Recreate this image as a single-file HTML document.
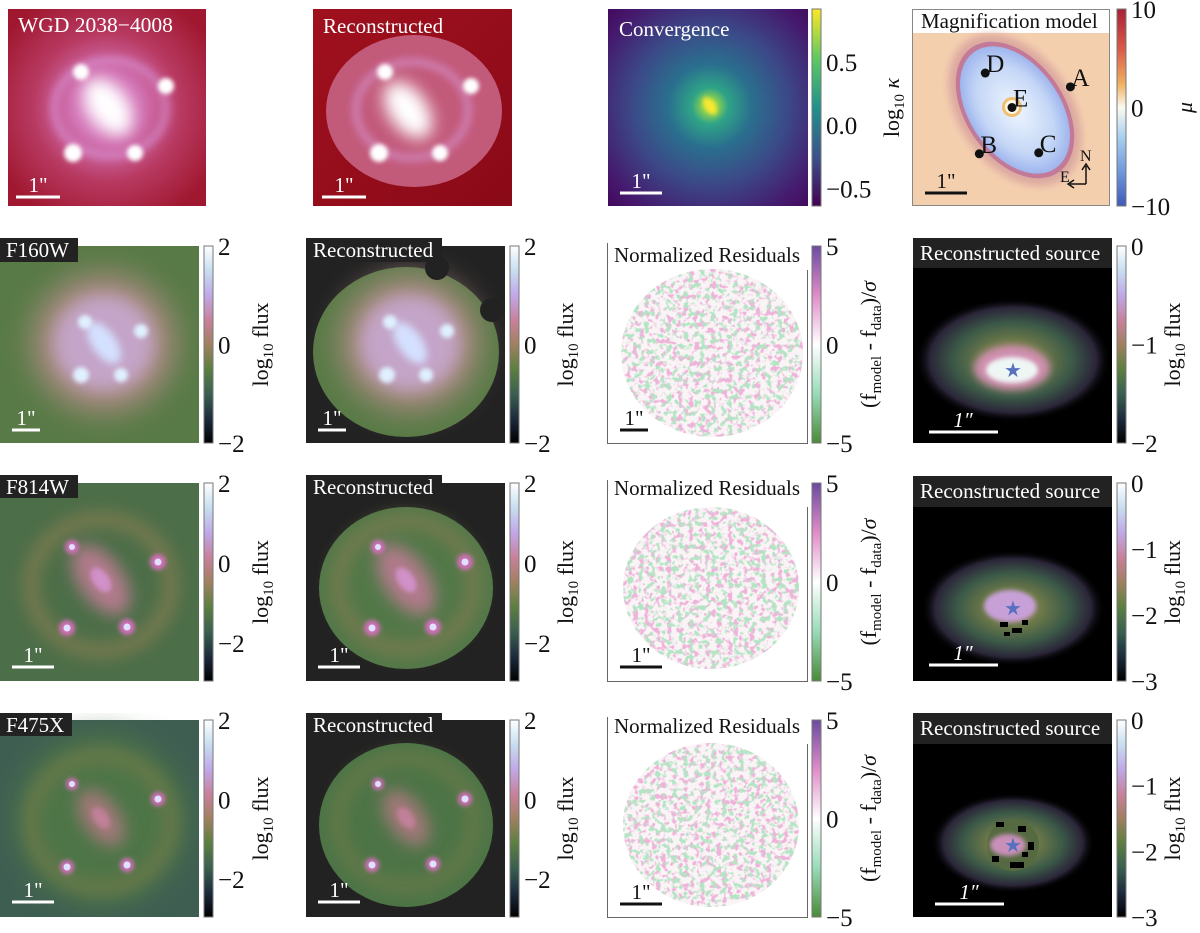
<!DOCTYPE html>
<html><head><meta charset="utf-8"><style>
html,body{margin:0;padding:0;background:#fff;}
svg{display:block;font-family:"Liberation Serif",serif;}
</style></head><body>
<svg id="fig" width="1200" height="933" viewBox="0 0 1200 933" xmlns="http://www.w3.org/2000/svg">
<defs>
<filter id="b2" x="-50%" y="-50%" width="200%" height="200%"><feGaussianBlur stdDeviation="2"/></filter>
<filter id="b4" x="-50%" y="-50%" width="200%" height="200%"><feGaussianBlur stdDeviation="4"/></filter>
<filter id="b8" x="-50%" y="-50%" width="200%" height="200%"><feGaussianBlur stdDeviation="8"/></filter>
<filter id="b15" x="-50%" y="-50%" width="200%" height="200%"><feGaussianBlur stdDeviation="15"/></filter>
<filter id="noise" x="0" y="0" width="100%" height="100%">
 <feTurbulence type="fractalNoise" baseFrequency="0.18" numOctaves="2" seed="4"/>
 <feColorMatrix type="matrix" values="0 0 0 0 0.86  0 0 0 0 0.45  0 0 0 0 0.70  7 0 0 0 -3.6"/>
</filter>
<filter id="noise2" x="0" y="0" width="100%" height="100%">
 <feTurbulence type="fractalNoise" baseFrequency="0.18" numOctaves="2" seed="11"/>
 <feColorMatrix type="matrix" values="0 0 0 0 0.45  0 0 0 0 0.78  0 0 0 0 0.55  0 7 0 0 -3.7"/>
</filter>
<radialGradient id="redbg" cx="50%" cy="50%" r="62%"><stop offset="0" stop-color="#e8a8e0"/><stop offset="0.3" stop-color="#d070b0"/><stop offset="0.6" stop-color="#b83a62"/><stop offset="1" stop-color="#a01830"/></radialGradient>
<linearGradient id="redbg2" x1="0" y1="0" x2="1" y2="1"><stop offset="0" stop-color="#a0101e"/><stop offset="1" stop-color="#8a0a18"/></linearGradient>
<radialGradient id="viri" cx="710" cy="106" r="140" gradientUnits="userSpaceOnUse"><stop offset="0" stop-color="#eee32a"/><stop offset="0.05" stop-color="#8fd24e"/><stop offset="0.13" stop-color="#2fa487"/><stop offset="0.3" stop-color="#2a6f8e"/><stop offset="0.55" stop-color="#3b4a88"/><stop offset="0.85" stop-color="#451a6e"/><stop offset="1" stop-color="#440a5e"/></radialGradient>
<radialGradient id="srcglow" cx="50%" cy="50%" r="50%"><stop offset="0" stop-color="#c88aa0"/><stop offset="0.3" stop-color="#6f7a48"/><stop offset="0.6" stop-color="#3c5a48"/><stop offset="0.85" stop-color="#2a2538"/><stop offset="1" stop-color="#000" stop-opacity="0"/></radialGradient>
<radialGradient id="magin" cx="50%" cy="50%" r="50%"><stop offset="0" stop-color="#eef6ff"/><stop offset="0.7" stop-color="#c4d6f6"/><stop offset="1" stop-color="#9fb6ee"/></radialGradient>
<linearGradient id="cm-flux" x1="0" y1="0" x2="0" y2="1"><stop offset="0" stop-color="#ffffff"/><stop offset="0.12" stop-color="#c8e0f0"/><stop offset="0.25" stop-color="#c0a8e8"/><stop offset="0.38" stop-color="#c8809a"/><stop offset="0.5" stop-color="#a08060"/><stop offset="0.62" stop-color="#5e8040"/><stop offset="0.75" stop-color="#3a6050"/><stop offset="0.88" stop-color="#1c2a3c"/><stop offset="1" stop-color="#000000"/></linearGradient>
<linearGradient id="cm-viri" x1="0" y1="0" x2="0" y2="1"><stop offset="0" stop-color="#fde725"/><stop offset="0.25" stop-color="#5ec962"/><stop offset="0.5" stop-color="#21918c"/><stop offset="0.75" stop-color="#3b528b"/><stop offset="1" stop-color="#440154"/></linearGradient>
<linearGradient id="cm-mu" x1="0" y1="0" x2="0" y2="1"><stop offset="0" stop-color="#a82038"/><stop offset="0.2" stop-color="#d85a48"/><stop offset="0.38" stop-color="#f0b060"/><stop offset="0.5" stop-color="#fafaf0"/><stop offset="0.65" stop-color="#a8d0f0"/><stop offset="0.85" stop-color="#6890d8"/><stop offset="1" stop-color="#4058b8"/></linearGradient>
<linearGradient id="cm-res" x1="0" y1="0" x2="0" y2="1"><stop offset="0" stop-color="#6a4aa0"/><stop offset="0.25" stop-color="#e08cc8"/><stop offset="0.5" stop-color="#ffffff"/><stop offset="0.75" stop-color="#98dcb8"/><stop offset="1" stop-color="#4a8a38"/></linearGradient>
<clipPath id="disk2"><ellipse cx="712" cy="353" rx="91" ry="84"/></clipPath>
<clipPath id="disk3"><ellipse cx="711" cy="588" rx="88" ry="81"/></clipPath>
<clipPath id="disk4"><ellipse cx="711" cy="825" rx="88" ry="82"/></clipPath>
<clipPath id="c11"><rect x="8" y="9" width="198" height="197"/></clipPath>
<clipPath id="c12"><rect x="313" y="9" width="199" height="197"/></clipPath>
<clipPath id="c13"><rect x="608" y="9" width="200" height="197"/></clipPath>
<clipPath id="c14"><rect x="912" y="9" width="198" height="197"/></clipPath>
<clipPath id="c21"><rect x="0" y="238" width="199" height="205"/></clipPath>
<clipPath id="c22"><rect x="306" y="238" width="199" height="205"/></clipPath>
<clipPath id="c31"><rect x="0" y="475" width="199" height="206"/></clipPath>
<clipPath id="c32"><rect x="306" y="475" width="199" height="206"/></clipPath>
<clipPath id="c41"><rect x="0" y="713" width="199" height="204"/></clipPath>
<clipPath id="c42"><rect x="306" y="713" width="199" height="204"/></clipPath>
<clipPath id="c24"><rect x="913" y="238" width="199" height="205"/></clipPath>
<clipPath id="c34"><rect x="913" y="476" width="199" height="205"/></clipPath>
<clipPath id="c44"><rect x="913" y="713" width="199" height="204"/></clipPath>
</defs>

<!-- ROW 1 -->
<g clip-path="url(#c11)">
 <rect x="8" y="9" width="198" height="197" fill="url(#redbg)"/>
 <ellipse cx="110" cy="108" rx="56" ry="48" fill="none" stroke="#e0a8f0" stroke-width="8" opacity="0.45" filter="url(#b4)"/>
 <ellipse cx="108" cy="107" rx="32" ry="19" transform="rotate(55 108 107)" fill="#ffffff" filter="url(#b8)"/>
 <g fill="#fff" filter="url(#b2)"><circle cx="81" cy="72" r="8"/><circle cx="166" cy="86" r="8"/><circle cx="73" cy="153" r="9"/><circle cx="135" cy="153" r="8"/></g>
 <text x="18" y="32" font-size="21.5" fill="#fff">WGD 2038−4008</text>
 <line x1="16" y1="197" x2="60" y2="197" stroke="#fff" stroke-width="3"/><text x="38" y="192" font-size="21" fill="#fff" text-anchor="middle">1"</text>
</g>
<g clip-path="url(#c12)">
 <rect x="313" y="9" width="199" height="197" fill="url(#redbg2)"/>
 <ellipse cx="414" cy="111" rx="88" ry="76" fill="#c25a7a"/>
 <ellipse cx="412" cy="110" rx="56" ry="48" fill="none" stroke="#e0a8f0" stroke-width="8" opacity="0.45" filter="url(#b4)"/>
 <ellipse cx="408" cy="110" rx="32" ry="19" transform="rotate(55 408 110)" fill="#ffffff" filter="url(#b8)"/>
 <g fill="#fff" filter="url(#b2)"><circle cx="385" cy="72" r="8"/><circle cx="471" cy="86" r="8"/><circle cx="379" cy="153" r="9"/><circle cx="440" cy="153" r="8"/></g>
 <text x="323" y="33" font-size="21" fill="#fff">Reconstructed</text>
 <line x1="322" y1="197" x2="366" y2="197" stroke="#fff" stroke-width="3"/><text x="344" y="192" font-size="21" fill="#fff" text-anchor="middle">1"</text>
</g>
<g clip-path="url(#c13)">
 <rect x="608" y="9" width="200" height="197" fill="url(#viri)"/>
 <ellipse cx="710" cy="106" rx="10" ry="5" transform="rotate(55 710 106)" fill="#f8e830" filter="url(#b2)"/>
 <text x="619" y="36" font-size="21" fill="#fff">Convergence</text>
 <line x1="620" y1="193" x2="662" y2="193" stroke="#fff" stroke-width="3"/><text x="641" y="188" font-size="21" fill="#fff" text-anchor="middle">1"</text>
</g>
<g clip-path="url(#c14)">
 <rect x="912" y="9" width="198" height="197" fill="#f4cfae"/>
 <rect x="913" y="9" width="196" height="24" fill="#fff"/>
 <ellipse cx="1015" cy="110" rx="84" ry="56" transform="rotate(55 1015 110)" fill="#dca8a0" filter="url(#b4)"/>
 <ellipse cx="1015" cy="110" rx="76" ry="49" transform="rotate(55 1015 110)" fill="#c27a98"/>
 <ellipse cx="1015" cy="110" rx="71" ry="45" transform="rotate(55 1015 110)" fill="url(#magin)"/>
 <circle cx="1012" cy="107" r="10" fill="#f0c070"/><circle cx="1012" cy="107" r="7" fill="#fff8e8"/>
 <text x="921" y="28" font-size="21" fill="#111">Magnification model</text>
 <g id="magpoints"></g>
 <text x="1080" y="161" font-size="16" fill="#111">N</text><text x="1060" y="182" font-size="16" fill="#111">E</text>
 <path d="M1086 184 V166 M1082 170 L1086 164 L1090 170 M1086 184 H1070 M1074 180 L1068 184 L1074 188" stroke="#111" stroke-width="1.5" fill="none"/>
 <line x1="925" y1="193" x2="967" y2="193" stroke="#111" stroke-width="3"/><text x="946" y="188" font-size="21" fill="#111" text-anchor="middle">1"</text>
 <rect x="912.5" y="9.5" width="197" height="196" fill="none" stroke="#888" stroke-width="1"/>
</g>

<!-- ROW 2 -->
<g clip-path="url(#c21)">
 <rect x="0" y="246" width="199" height="197" fill="#587a46"/>
 <ellipse cx="104" cy="343" rx="72" ry="70" fill="#a88a80" filter="url(#b15)"/>
 <ellipse cx="104" cy="343" rx="50" ry="48" fill="#c4a4c8" filter="url(#b8)"/>
 <ellipse cx="104" cy="343" rx="24" ry="12" transform="rotate(55 104 343)" fill="#d4e0ff" filter="url(#b4)"/>
 <g filter="url(#b2)"><circle cx="85" cy="322" r="7" fill="#dff0ff"/><circle cx="141" cy="331" r="7" fill="#dff0ff"/><circle cx="81" cy="375" r="8" fill="#dff0ff"/><circle cx="121" cy="375" r="7" fill="#dff0ff"/></g>
 <rect x="0" y="238" width="78" height="24" fill="#222"/><text x="6" y="257" font-size="21" fill="#fff">F160W</text>
 <line x1="12" y1="430" x2="40" y2="430" stroke="#fff" stroke-width="3"/><text x="26" y="425" font-size="21" fill="#fff" text-anchor="middle">1"</text>
</g>
<g clip-path="url(#c22)">
 <rect x="306" y="246" width="199" height="197" fill="#222"/>
 <ellipse cx="406" cy="352" rx="93" ry="85" fill="#587a46"/>
 <ellipse cx="410" cy="343" rx="70" ry="68" fill="#a88a80" filter="url(#b15)"/>
 <ellipse cx="410" cy="343" rx="50" ry="48" fill="#c4a4c8" filter="url(#b8)"/>
 <ellipse cx="410" cy="343" rx="24" ry="12" transform="rotate(55 410 343)" fill="#d4e0ff" filter="url(#b4)"/>
 <g filter="url(#b2)"><circle cx="390" cy="322" r="7" fill="#dff0ff"/><circle cx="447" cy="331" r="7" fill="#dff0ff"/><circle cx="387" cy="375" r="8" fill="#dff0ff"/><circle cx="426" cy="375" r="7" fill="#dff0ff"/></g>
 <circle cx="437" cy="268" r="12" fill="#222"/><circle cx="492" cy="310" r="12" fill="#222"/>
 <rect x="306" y="238" width="136" height="24" fill="#222"/><text x="313" y="257" font-size="21" fill="#fff">Reconstructed</text>
 <line x1="318" y1="430" x2="346" y2="430" stroke="#fff" stroke-width="3"/><text x="332" y="425" font-size="21" fill="#fff" text-anchor="middle">1"</text>
</g>
<g>
 <g clip-path="url(#disk2)"><rect x="618" y="266" width="190" height="176" fill="#faf4f6"/><rect x="618" y="266" width="190" height="176" filter="url(#noise)"/><rect x="618" y="266" width="190" height="176" filter="url(#noise2)"/></g>
 <path d="M607.5 243 V443.5 H807.5 V270" fill="none" stroke="#666" stroke-width="1"/>
 <text x="614" y="262" font-size="21" fill="#111">Normalized Residuals</text>
 <line x1="620" y1="430" x2="648" y2="430" stroke="#111" stroke-width="3"/><text x="634" y="425" font-size="21" fill="#111" text-anchor="middle">1"</text>
</g>
<g clip-path="url(#c24)">
 <rect x="913" y="238" width="199" height="205" fill="#000"/>
 <ellipse cx="1013" cy="360" rx="98" ry="62" fill="url(#srcglow)"/>
 <ellipse cx="1012" cy="368" rx="38" ry="22" fill="#d090b0" filter="url(#b4)"/>
 <ellipse cx="1012" cy="370" rx="26" ry="13" fill="#eef6f4" filter="url(#b2)"/>
 <text x="1013" y="377" font-size="20" fill="#5870c0" text-anchor="middle">★</text>
 <rect x="913" y="238" width="199" height="30" fill="#222"/><text x="920" y="260" font-size="21" fill="#fff">Reconstructed source</text>
 <line x1="929" y1="432" x2="998" y2="432" stroke="#fff" stroke-width="3"/><text x="963" y="427" font-size="21" fill="#fff" text-anchor="middle" font-style="italic">1″</text>
</g>

<!-- ROW 3 -->
<g clip-path="url(#c31)">
 <rect x="0" y="483" width="199" height="198" fill="#4c6e48"/>
 <ellipse cx="101" cy="585" rx="70" ry="66" fill="none" stroke="#7c7a50" stroke-width="14" filter="url(#b8)"/>
 <ellipse cx="101" cy="580" rx="40" ry="22" transform="rotate(55 101 580)" fill="#b07a8a" filter="url(#b8)"/>
 <ellipse cx="101" cy="580" rx="14" ry="8" transform="rotate(55 101 580)" fill="#d090c8" filter="url(#b2)"/>
 <g filter="url(#b2)" fill="#d070b8"><circle cx="72" cy="547" r="7"/><circle cx="158" cy="562" r="8"/><circle cx="67" cy="628" r="8"/><circle cx="127" cy="627" r="8"/></g>
 <g fill="#e0e0ff"><circle cx="72" cy="547" r="3"/><circle cx="158" cy="562" r="3.5"/><circle cx="67" cy="628" r="3.5"/><circle cx="127" cy="627" r="3.5"/></g>
 <rect x="0" y="475" width="78" height="23" fill="#222"/><text x="6" y="494" font-size="21" fill="#fff">F814W</text>
 <line x1="12" y1="667" x2="54" y2="667" stroke="#fff" stroke-width="3"/><text x="33" y="662" font-size="21" fill="#fff" text-anchor="middle">1"</text>
</g>
<g clip-path="url(#c32)">
 <rect x="306" y="483" width="199" height="198" fill="#222"/>
 <ellipse cx="406" cy="588" rx="87" ry="81" fill="#527848"/>
 <ellipse cx="406" cy="585" rx="68" ry="64" fill="none" stroke="#7c7a50" stroke-width="12" filter="url(#b8)"/>
 <ellipse cx="406" cy="580" rx="40" ry="22" transform="rotate(55 406 580)" fill="#b07a8a" filter="url(#b8)"/>
 <ellipse cx="406" cy="580" rx="14" ry="8" transform="rotate(55 406 580)" fill="#d090c8" filter="url(#b2)"/>
 <g filter="url(#b2)" fill="#d070b8"><circle cx="378" cy="547" r="7"/><circle cx="465" cy="562" r="8"/><circle cx="372" cy="628" r="8"/><circle cx="433" cy="627" r="8"/></g>
 <g fill="#e0e0ff"><circle cx="378" cy="547" r="3"/><circle cx="465" cy="562" r="3.5"/><circle cx="372" cy="628" r="3.5"/><circle cx="433" cy="627" r="3.5"/></g>
 <rect x="306" y="475" width="136" height="23" fill="#222"/><text x="313" y="494" font-size="21" fill="#fff">Reconstructed</text>
 <line x1="318" y1="667" x2="360" y2="667" stroke="#fff" stroke-width="3"/><text x="339" y="662" font-size="21" fill="#fff" text-anchor="middle">1"</text>
</g>
<g>
 <g clip-path="url(#disk3)"><rect x="618" y="504" width="190" height="170" fill="#faf4f6"/><rect x="618" y="504" width="190" height="170" filter="url(#noise)"/><rect x="618" y="504" width="190" height="170" filter="url(#noise2)"/></g>
 <path d="M607.5 480 V681.5 H807.5 V507" fill="none" stroke="#666" stroke-width="1"/>
 <text x="614" y="495" font-size="21" fill="#111">Normalized Residuals</text>
 <line x1="620" y1="667" x2="662" y2="667" stroke="#111" stroke-width="3"/><text x="641" y="662" font-size="21" fill="#111" text-anchor="middle">1"</text>
</g>
<g clip-path="url(#c34)">
 <rect x="913" y="476" width="199" height="205" fill="#000"/>
 <ellipse cx="1013" cy="608" rx="92" ry="58" fill="url(#srcglow)"/>
 <ellipse cx="1010" cy="606" rx="26" ry="16" fill="#c8a0d8" filter="url(#b2)"/>
 <g fill="#000"><rect x="1000" y="622" width="8" height="5"/><rect x="1012" y="628" width="10" height="5"/><rect x="1022" y="620" width="6" height="5"/><rect x="1004" y="632" width="6" height="4"/></g>
 <text x="1013" y="615" font-size="20" fill="#5870c0" text-anchor="middle">★</text>
 <rect x="913" y="476" width="199" height="31" fill="#222"/><text x="920" y="498" font-size="21" fill="#fff">Reconstructed source</text>
 <line x1="929" y1="665" x2="998" y2="665" stroke="#fff" stroke-width="3"/><text x="963" y="660" font-size="21" fill="#fff" text-anchor="middle" font-style="italic">1″</text>
</g>

<!-- ROW 4 -->
<g clip-path="url(#c41)">
 <rect x="0" y="720" width="199" height="197" fill="#3e5e52"/>
 <ellipse cx="101" cy="820" rx="85" ry="85" fill="#4e7446" filter="url(#b15)"/>
 <ellipse cx="101" cy="822" rx="70" ry="66" fill="none" stroke="#6e7a4a" stroke-width="12" filter="url(#b8)"/>
 <ellipse cx="101" cy="818" rx="32" ry="18" transform="rotate(55 101 818)" fill="#a07878" filter="url(#b8)"/>
 <ellipse cx="101" cy="818" rx="12" ry="7" transform="rotate(55 101 818)" fill="#c08098" filter="url(#b2)"/>
 <g filter="url(#b2)" fill="#d070b8"><circle cx="72" cy="784" r="6"/><circle cx="158" cy="799" r="7"/><circle cx="67" cy="867" r="7"/><circle cx="127" cy="865" r="7"/></g>
 <g fill="#e0e0ff"><circle cx="72" cy="784" r="3"/><circle cx="158" cy="799" r="3.5"/><circle cx="67" cy="867" r="3.5"/><circle cx="127" cy="865" r="3.5"/></g>
 <rect x="0" y="713" width="72" height="23" fill="#222"/><text x="6" y="732" font-size="21" fill="#fff">F475X</text>
 <line x1="12" y1="902" x2="54" y2="902" stroke="#fff" stroke-width="3"/><text x="33" y="897" font-size="21" fill="#fff" text-anchor="middle">1"</text>
</g>
<g clip-path="url(#c42)">
 <rect x="306" y="720" width="199" height="197" fill="#222"/>
 <ellipse cx="406" cy="825" rx="87" ry="82" fill="#4c7446"/>
 <ellipse cx="406" cy="822" rx="68" ry="64" fill="none" stroke="#6e7a4a" stroke-width="10" filter="url(#b8)"/>
 <ellipse cx="406" cy="818" rx="32" ry="18" transform="rotate(55 406 818)" fill="#a07878" filter="url(#b8)"/>
 <ellipse cx="406" cy="818" rx="12" ry="7" transform="rotate(55 406 818)" fill="#c08098" filter="url(#b2)"/>
 <g filter="url(#b2)" fill="#d070b8"><circle cx="378" cy="784" r="6"/><circle cx="465" cy="799" r="7"/><circle cx="372" cy="865" r="7"/><circle cx="433" cy="864" r="7"/></g>
 <g fill="#e0e0ff"><circle cx="378" cy="784" r="3"/><circle cx="465" cy="799" r="3.5"/><circle cx="372" cy="865" r="3.5"/><circle cx="433" cy="864" r="3.5"/></g>
 <rect x="306" y="713" width="136" height="23" fill="#222"/><text x="313" y="732" font-size="21" fill="#fff">Reconstructed</text>
 <line x1="318" y1="902" x2="360" y2="902" stroke="#fff" stroke-width="3"/><text x="339" y="897" font-size="21" fill="#fff" text-anchor="middle">1"</text>
</g>
<g>
 <g clip-path="url(#disk4)"><rect x="618" y="740" width="190" height="170" fill="#faf4f6"/><rect x="618" y="740" width="190" height="170" filter="url(#noise)"/><rect x="618" y="740" width="190" height="170" filter="url(#noise2)"/></g>
 <path d="M607.5 717 V917.5 H807.5 V744" fill="none" stroke="#666" stroke-width="1"/>
 <text x="614" y="733" font-size="21" fill="#111">Normalized Residuals</text>
 <line x1="620" y1="904" x2="662" y2="904" stroke="#111" stroke-width="3"/><text x="641" y="899" font-size="21" fill="#111" text-anchor="middle">1"</text>
</g>
<g clip-path="url(#c44)">
 <rect x="913" y="713" width="199" height="204" fill="#000"/>
 <ellipse cx="1013" cy="843" rx="82" ry="50" fill="url(#srcglow)"/>
 <circle cx="1013" cy="845" r="26" fill="#556a40"/>
 <ellipse cx="1008" cy="845" rx="18" ry="11" fill="#c890b8" filter="url(#b2)"/>
 <g fill="#000"><rect x="996" y="822" width="8" height="5"/><rect x="1018" y="826" width="8" height="6"/><rect x="1028" y="842" width="6" height="8"/><rect x="1010" y="862" width="14" height="6"/><rect x="992" y="856" width="7" height="6"/><rect x="1022" y="852" width="6" height="5"/></g>
 <text x="1013" y="852" font-size="20" fill="#5870c0" text-anchor="middle">★</text>
 <rect x="913" y="713" width="199" height="31" fill="#222"/><text x="920" y="735" font-size="21" fill="#fff">Reconstructed source</text>
 <line x1="935" y1="904" x2="1004" y2="904" stroke="#fff" stroke-width="3"/><text x="969" y="899" font-size="21" fill="#fff" text-anchor="middle" font-style="italic">1″</text>
</g>

<g id="colorbars"></g>
</svg>
<script>
// colorbar tick data
const fluxTicksA = [2, 0, -2];
const fluxTicksB = [2, 0, -2];
const kappaTicks = [0.5, 0.0, -0.5];
const kappaLabels = ["0.5", "0.0", "−0.5"];
const muTicks = [10, 0, -10];
const residTicks = [5, 0, -5];
const srcTicksA = [0, -1, -2];
const srcTicksB = [0, -1, -2, -3];
// magnification image markers (label, panel-relative position 0..1)
const imgLabels = ["D", "A", "E", "B", "C"];
const imgX = [0.37, 0.80, 0.505, 0.34, 0.64];
const imgY = [0.325, 0.395, 0.50, 0.735, 0.73];

const NS = "http://www.w3.org/2000/svg";
const cbG = document.getElementById("colorbars");
function mk(tag, attrs, parent) { const e = document.createElementNS(NS, tag); for (const k in attrs) e.setAttribute(k, attrs[k]); parent.appendChild(e); return e; }
function fmt(v) { return v < 0 ? "−" + Math.abs(v) : String(v); }

function colorbar(name, x, y0, y1, vmax, vmin, grad, ticks, labels, lblX, lblParts) {
  const g = mk("g", {}, cbG);
  
  
  const scale = v => y0 + (vmax - v) / (vmax - vmin) * (y1 - y0);
  mk("rect", { x: x, y: y0, width: 9, height: y1 - y0, fill: "url(#" + grad + ")", stroke: "#777", "stroke-width": 1 }, g);
  ticks.forEach((t, i) => {
    const yy = scale(t);
    const tx = mk("text", { x: x + 14, y: yy + 9, "font-size": 25, fill: "#111" }, g);
    
    
    tx.textContent = labels ? labels[i] : fmt(t);
  });
  const yc = (y0 + y1) / 2;
  const lab = mk("text", { x: 0, y: 0, "font-size": 22, fill: "#111", "text-anchor": "middle", transform: "translate(" + lblX + "," + yc + ") rotate(-90)" }, g);
  
  
  lblParts.forEach(p => { const ts = mk("tspan", p.sub ? { "font-size": 15, dy: p.dy } : { dy: p.dy || 0 }, lab); if (p.it) ts.setAttribute("font-style", "italic"); ts.textContent = p.t; });
}
const fluxLbl = [{ t: "log" }, { t: "10", sub: 1, dy: 5 }, { t: " flux", dy: -5 }];
const resLbl = [{ t: "(f" }, { t: "model", sub: 1, dy: 5 }, { t: " - f", dy: -5 }, { t: "data", sub: 1, dy: 5 }, { t: ")/", dy: -5 }, { t: "σ", it: 1 }];

colorbar("convergence-colorbar", 812, 9, 206, 0.92, -0.64, "cm-viri", kappaTicks, kappaLabels, 899, [{ t: "log" }, { t: "10", sub: 1, dy: 5 }, { t: " ", dy: -5 }, { t: "κ", it: 1 }]);
colorbar("magnification-colorbar", 1117, 9, 206, 10, -10, "cm-mu", muTicks, null, 1192, [{ t: "μ", it: 1 }]);
const rows = [[246, 443, 2, -2, fluxTicksA, srcTicksA, 0, -2], [483, 681, 2, -2.95, fluxTicksB, srcTicksB, 0, -3], [720, 917, 2, -2.95, fluxTicksB, srcTicksB, 0, -3]];
const rowNames = ["f160w", "f814w", "f475x"];
rows.forEach((r, i) => {
  colorbar(rowNames[i] + "-data-colorbar", 204, r[0], r[1], r[2], r[3], "cm-flux", r[4], null, 268, fluxLbl);
  colorbar(rowNames[i] + "-model-colorbar", 510, r[0], r[1], r[2], r[3], "cm-flux", r[4], null, 573, fluxLbl);
  colorbar(rowNames[i] + "-residual-colorbar", 812, r[0], r[1], 5, -5, "cm-res", residTicks, null, 876, resLbl);
  colorbar(rowNames[i] + "-source-colorbar", 1117, r[0], r[1], r[6], r[7], "cm-flux", r[5], null, 1180, fluxLbl);
});

// magnification markers
const mp = document.getElementById("magpoints");
const px = v => 912 + v * 198, py = v => 9 + v * 197;
imgLabels.forEach((l, i) => {
  const c = mk("circle", { cx: px(imgX[i]), cy: py(imgY[i]), r: 4.5, fill: "#111" }, mp);
  
  
  const t = mk("text", { x: px(imgX[i]) + 1, y: py(imgY[i]) - 1, "font-size": 25, fill: "#111" }, mp);
  
  
  t.textContent = l;
});
</script>
</body></html>
